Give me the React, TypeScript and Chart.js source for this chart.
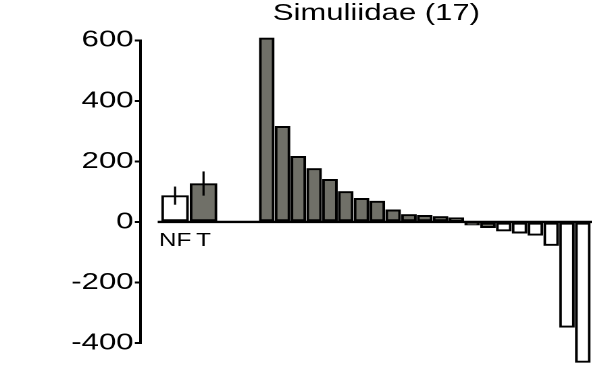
import { useEffect, useRef } from 'react';
import { Chart, registerables } from 'chart.js';

Chart.register(...registerables);

// ---- data ----
const chartTitle = 'Simuliidae (17)';
const groupLabels = ['NF', 'T'];
const groupPositions = [-4.8, -3];
const groupMeans = [87, 127];
const groupErrors = [30, 40];
const taxonValues = [608, 316, 217, 177, 141, 101, 78, 69, 40, 25, 22, 18, 14, -10, -19, -30, -37, -44, -78, -348, -464];
const grayTaxonCount = 15;
const yTicks = [-400, -200, 0, 200, 400, 600];
const zeroLineSpan = [-5.9, 22.8];

// ---- layout / style ----
const CW = 612; // canvas css width (wider than the 592 viewport, overflow hidden)
const H = 376;
const STRETCH = 1.35;
const LW = Math.round(CW / STRETCH);
const GRAY = '#707068';
const FONT = '"Liberation Sans", Arial, Helvetica, sans-serif';

const annotPlugin = {
  id: 'annot',
  afterDatasetsDraw(chart: any) {
    const { ctx } = chart;
    const y = chart.scales.y;
    const meta = chart.getDatasetMeta(0);
    ctx.save();
    ctx.strokeStyle = '#000';
    ctx.lineWidth = 1.6;
    meta.data.forEach((bar: any, i: number) => {
      ctx.beginPath();
      ctx.moveTo(bar.x, y.getPixelForValue(groupMeans[i] + groupErrors[i]));
      ctx.lineTo(bar.x, y.getPixelForValue(groupMeans[i] - groupErrors[i]));
      ctx.stroke();
    });
    const y0 = y.getPixelForValue(0);
    ctx.fillStyle = '#000';
    ctx.font = `18px ${FONT}`;
    ctx.textAlign = 'center';
    ctx.textBaseline = 'alphabetic';
    meta.data.forEach((bar: any, i: number) => {
      ctx.fillText(groupLabels[i], bar.x, y0 + 24);
    });
    ctx.restore();
  },
};

export default function App() {
  const ref = useRef<HTMLCanvasElement | null>(null);

  useEffect(() => {
    document.documentElement.style.overflow = 'hidden';
    document.body.style.margin = '0';
    document.body.style.overflow = 'hidden';
    const canvas = ref.current!;
    Chart.defaults.font.family = FONT;
    Chart.defaults.color = '#000';

    const chart = new Chart(canvas, {
      type: 'bar',
      data: {
        datasets: [
          {
            type: 'bar',
            data: groupPositions.map((x, i) => ({ x, y: groupMeans[i] })),
            backgroundColor: groupMeans.map((_, i) => (i === 0 ? '#ffffff' : GRAY)),
            borderColor: '#000',
            borderWidth: 2,
            borderSkipped: false,
            barThickness: 19.8,
            clip: false as any,
            order: 1,
          } as any,
          {
            type: 'bar',
            data: taxonValues.map((v, i) => ({ x: i + 1, y: v })),
            backgroundColor: taxonValues.map((_, i) => (i < grayTaxonCount ? GRAY : '#ffffff')),
            borderColor: '#000',
            borderWidth: 2,
            borderSkipped: false,
            barThickness: 10.9,
            clip: false as any,
            order: 1,
          } as any,
          {
            type: 'line',
            data: zeroLineSpan.map((x) => ({ x, y: 0 })),
            borderColor: '#000',
            borderWidth: 2.3,
            pointRadius: 0,
            tension: 0,
            clip: false as any,
            order: 5,
          } as any,
        ],
      },
      options: {
        responsive: false,
        devicePixelRatio: 2,
        animation: false,
        events: [],
        grouped: false,
        layout: { padding: { left: 0, right: 0, top: 0, bottom: 33 } },
        plugins: {
          legend: { display: false },
          tooltip: { enabled: false },
          title: {
            display: true,
            text: chartTitle,
            fullSize: false,
            color: '#000',
            font: { size: 23, weight: 'normal', family: FONT },
            padding: { top: 0, bottom: 12.8 },
          },
        },
        scales: {
          x: {
            type: 'linear',
            display: false,
            min: -6.97,
            max: 22.85,
            offset: false,
          },
          y: {
            min: -400,
            max: 600,
            afterBuildTicks: (scale: any) => {
              scale.ticks = yTicks.map((value) => ({ value }));
            },
            afterFit: (scale: any) => {
              scale.width = 104.2;
            },
            grid: {
              display: true,
              drawOnChartArea: false,
              drawTicks: true,
              tickLength: 4.4,
              color: '#000',
              lineWidth: 2,
            },
            border: { display: true, color: '#000', width: 2 },
            ticks: {
              color: '#000',
              padding: 1,
              font: { size: 23, family: FONT },
            },
          },
        },
      } as any,
      plugins: [annotPlugin],
    });
    canvas.style.width = `${CW}px`;
    canvas.style.height = `${H}px`;

    return () => chart.destroy();
  }, []);

  return (
    <canvas
      ref={ref}
      width={LW}
      height={H}
      style={{ width: `${CW}px`, height: `${H}px`, display: 'block' }}
    />
  );
}
